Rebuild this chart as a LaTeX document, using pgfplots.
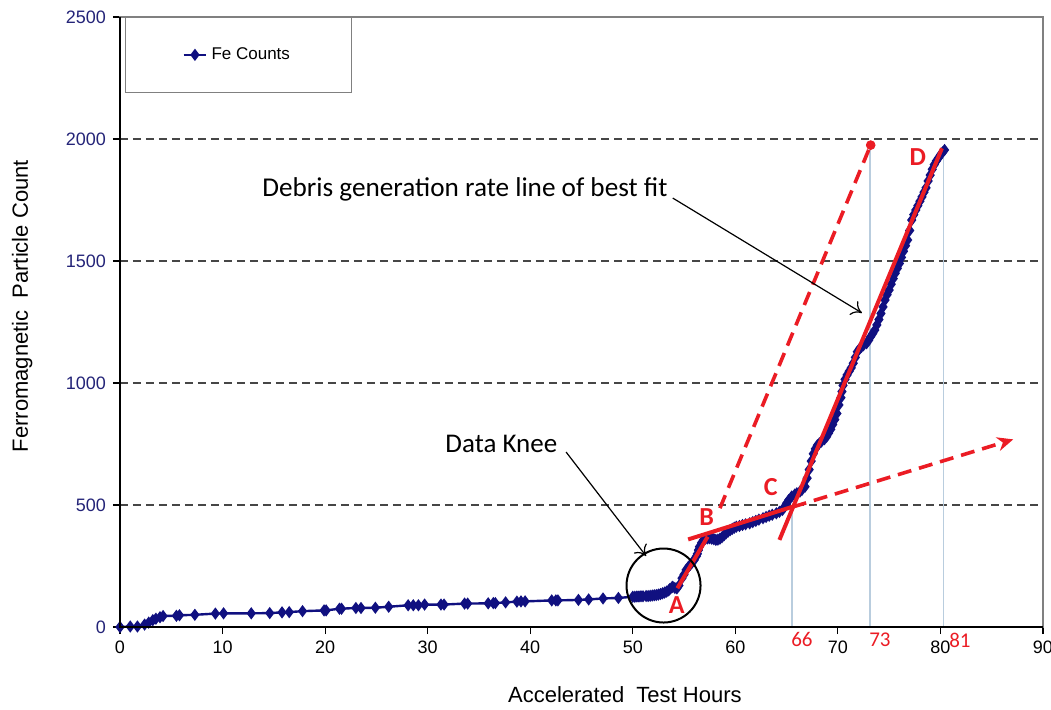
\documentclass[border=0pt]{standalone}
\usepackage{pgfplots}
\pgfplotsset{compat=1.18}
\usepackage{fontspec}
\setmainfont{Liberation Sans}
\newfontfamily\calibri{Carlito}
\usetikzlibrary{arrows.meta}
\definecolor{navy}{RGB}{16,16,128}
\definecolor{fred}{RGB}{235,28,36}
\definecolor{vline}{RGB}{185,205,222}
\definecolor{gridc}{RGB}{70,70,70}
\definecolor{ticknavy}{RGB}{36,36,120}

\pgfplotstableread{
x y
0 0
1.0 2
1.7 2
2.4 10
2.8 18
3.2 28
3.5 34
3.9 40
4.2 45
5.5 46
5.8 48
7.3 50
9.3 55
10.1 56
12.8 56
14.6 57
15.8 60
16.5 61
17.8 65
19.9 68
20.1 68
21.4 75
21.6 75
23.0 78
23.5 78
24.9 79
26.2 83
28.1 89
28.6 89
29.1 89
29.7 92
31.3 92
31.6 92
33.6 96
33.9 96
35.9 97
36.4 98
36.6 98
37.6 101
38.7 104
39.1 105
39.5 105
42.1 109
42.5 109
42.7 109
44.7 111
45.7 113
47.1 117
48.6 119
50.0 124
50.2 124
50.4 125
50.6 125
50.8 126
51.0 126
51.3 127
51.5 127
51.7 128
51.9 129
52.1 130
52.3 131
52.5 133
52.7 135
52.9 138
53.1 141
53.3 145
53.5 150
53.6 155
53.8 162
53.9 165
54.1 160
54.3 158
54.5 170
54.8 200
55.0 215
55.2 234
55.4 245
55.6 255
55.8 265
56.0 275
56.2 290
56.3 300
56.4 315
56.5 329
56.7 345
56.9 357
57.1 362
57.3 363
57.5 364
57.7 362
57.9 360
58.1 357
58.3 358
58.5 362
58.7 368
58.9 376
59.1 384
59.3 391
59.5 397
59.7 402
59.9 407
60.1 411
60.4 414
60.7 418
61.0 421
61.4 425
61.7 430
62.0 435
62.3 440
62.7 446
63.0 451
63.3 456
63.6 460
64.0 466
64.3 472
64.6 480
64.8 492
65.0 507
65.2 520
65.5 535
65.8 543
66.0 548
66.3 555
66.5 562
66.8 575
67.0 610
67.2 645
67.4 680
67.6 710
67.8 730
68.0 745
68.2 753
68.4 760
68.7 770
68.9 780
69.1 795
69.3 810
69.5 830
69.7 850
69.9 875
70.1 910
70.3 940
70.4 965
70.5 990
70.7 1015
70.9 1033
71.1 1048
71.3 1062
71.5 1081
71.7 1105
71.9 1128
72.1 1140
72.3 1148
72.5 1155
72.8 1163
73.0 1175
73.2 1190
73.4 1203
73.6 1217
73.8 1238
74.0 1260
74.2 1285
74.4 1312
74.6 1340
74.8 1362
75.0 1381
75.2 1405
75.4 1428
75.6 1450
75.8 1470
76.0 1490
76.2 1515
76.4 1540
76.6 1563
76.8 1586
77.0 1625
77.2 1668
77.4 1690
77.6 1709
77.8 1727
78.0 1745
78.2 1763
78.4 1782
78.6 1800
78.8 1828
79.0 1852
79.2 1876
79.4 1895
79.6 1910
79.8 1922
80.0 1935
80.2 1945
80.4 1955
}\fedata

\begin{document}
\begin{tikzpicture}
\path[use as bounding box] (-60pt,-41pt) rectangle (465.5pt,313.5pt);
\begin{axis}[
  at={(0pt,0pt)}, anchor=south west,
  scale only axis, width=461.5pt, height=305pt,
  xmin=0, xmax=90, ymin=0, ymax=2500,
  xtick={0,10,...,90}, ytick={0,500,...,2500},
  tick align=outside, major tick length=3.5pt,
  tick pos=left,
  axis line style={draw=gray, line width=0.7pt},
  ymajorgrids, major grid style={gridc, dash pattern=on 4pt off 2.5pt, line width=0.7pt},
  tick style={black, line width=0.6pt},
  /pgf/number format/assume math mode=true,
  /pgf/number format/1000 sep={},
  scaled y ticks=false,
  yticklabel style={ticknavy, font=\fontsize{9}{10}\selectfont},
  xticklabel style={black, font=\fontsize{9}{10}\selectfont},
  xlabel={Accelerated\ \ Test Hours},
  ylabel={Ferromagnetic\ \ Particle Count},
  xlabel style={at={(axis description cs:0.547,-0.111)}, anchor=center, font=\fontsize{11}{13}\selectfont},
  ylabel style={at={(axis description cs:-0.106,0.526)}, anchor=center, font=\fontsize{11}{13}\selectfont},
  clip=false,
  clip marker paths=true,
  legend style={at={(0.0054,1)}, anchor=north west, draw=gray, fill=white,
    font=\fontsize{8.5}{10}\selectfont, inner xsep=28.5pt, inner ysep=13pt},
  legend image code/.code={\draw[mark repeat=2,mark phase=2] plot coordinates {(0cm,0cm)(0.2cm,0cm)(0.4cm,0cm)};},
]
% light vertical reference lines
\addplot[vline, line width=0.8pt, forget plot] coordinates {(65.55,0)(65.55,493)};
\addplot[vline, line width=0.8pt, forget plot] coordinates {(73.15,0)(73.15,1975)};
\addplot[vline, line width=0.8pt, forget plot] coordinates {(80.3,0)(80.3,1955)};
% data
\addplot[navy, line width=1.2pt, mark=diamond*, mark size=2.1pt, mark options={solid}] table[x=x,y=y] {\fedata};
\addlegendentry{Fe Counts}
% red fit lines
\addplot[fred, line width=2pt, forget plot] coordinates {(54.35,159)(57.3,370)};
\addplot[fred, line width=2pt, forget plot] coordinates {(55.4,359)(65.6,493)};
\addplot[fred, line width=2pt, forget plot] coordinates {(64.3,357)(80.15,1962)};
\addplot[fred, line width=1.8pt, dash pattern=on 7pt off 4pt, forget plot] coordinates {(58.5,487)(73.2,1975)};
\addplot[fred, only marks, mark=*, mark size=2.2pt, forget plot] coordinates {(73.2,1975)};
\addplot[fred, line width=1.8pt, dash pattern=on 7pt off 4pt, -{Stealth[length=8pt,width=7pt]}, forget plot] coordinates {(65.6,492)(87.1,769)};
% axis lines left/bottom in black
\draw[black, line width=0.8pt] (rel axis cs:0,1) -- (rel axis cs:0,0) -- (rel axis cs:1,0);
% annotations
\node[anchor=base west, inner sep=0pt, font=\calibri\fontsize{13.6}{16}\selectfont] at (axis cs:13.85,1766) {Debris generation rate line of best fit};
\draw[-{To[length=5pt,width=8pt]}, line width=0.6pt] (axis cs:53.9,1758) -- (axis cs:72.35,1287);
\node[anchor=base west, inner sep=0pt, font=\calibri\fontsize{13.5}{16}\selectfont] at (axis cs:31.7,717) {Data Knee};
\draw[-{To[length=5pt,width=8pt]}, line width=0.6pt] (axis cs:43.5,717) -- (axis cs:51.3,291);
\draw[line width=1pt] (axis cs:53.0,170) circle[radius=18.5pt];
\node[fred, font=\calibri\bfseries\fontsize{13}{15}\selectfont] at (axis cs:54.3,90) {A};
\node[fred, font=\calibri\bfseries\fontsize{13}{15}\selectfont] at (axis cs:57.2,451) {B};
\node[fred, font=\calibri\bfseries\fontsize{13}{15}\selectfont] at (axis cs:63.45,574) {C};
\node[fred, font=\calibri\bfseries\fontsize{13}{15}\selectfont] at (axis cs:77.8,1926) {D};
\node[fred, font=\calibri\fontsize{10.5}{12}\selectfont] at (axis cs:66.5,-53) {66};
\node[fred, font=\calibri\fontsize{10.5}{12}\selectfont] at (axis cs:74.1,-53) {73};
\node[fred, font=\calibri\fontsize{10.5}{12}\selectfont] at (axis cs:81.9,-53) {81};
\end{axis}
\end{tikzpicture}
\end{document}
